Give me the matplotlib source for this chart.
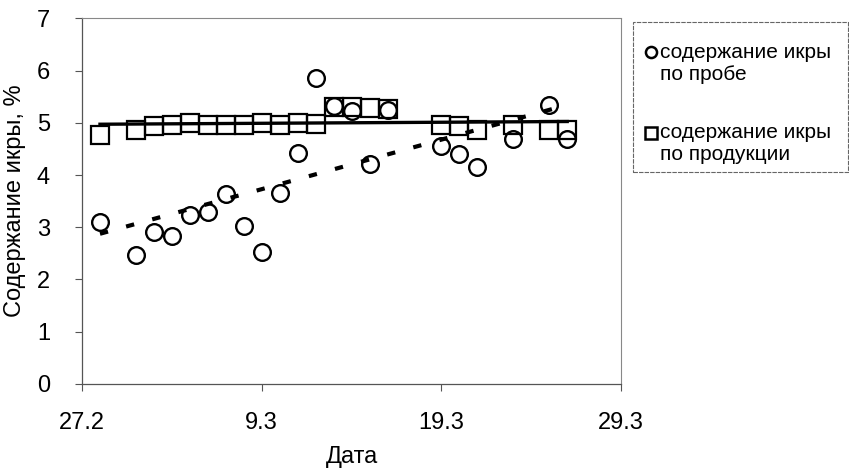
import numpy as np
import matplotlib
matplotlib.use("Agg")
import matplotlib.pyplot as plt
from matplotlib.lines import Line2D
from matplotlib.patches import Rectangle

plt.rcParams['font.family'] = ['Liberation Sans', 'DejaVu Sans']

# дни от 27.2
days = [1, 3, 4, 5, 6, 7, 8, 9, 10, 11, 12, 13, 14, 15, 16, 17, 20, 21, 22, 24, 26, 27]
# содержание икры по пробе, %
probe = [3.10, 2.47, 2.90, 2.84, 3.23, 3.30, 3.63, 3.03, 2.52, 3.65, 4.43, 5.85,
         5.32, 5.23, 4.22, 5.24, 4.55, 4.41, 4.15, 4.68, 5.34, 4.68]
# содержание икры по продукции, %
product = [4.77, 4.86, 4.94, 4.96, 4.99, 4.96, 4.96, 4.96, 4.99, 4.96, 4.99, 4.98,
           5.30, 5.31, 5.28, 5.26, 4.96, 4.94, 4.87, 4.96, 4.86, 4.86]

tick_pos = [0, 10, 20, 30]
tick_labels = ['27.2', '9.3', '19.3', '29.3']

W, H = 849, 474
fig = plt.figure(figsize=(W / 100, H / 100), dpi=100)
ax = fig.add_axes([0.0966, 0.19, 0.635, 0.7714])

x = np.array(days, dtype=float)
# линейные тренды (как в Excel)
k1, b1 = np.polyfit(x, probe, 1)
k2, b2 = np.polyfit(x, product, 1)
xl = np.array([x.min(), x.max()])
ax.plot(xl, k2 * xl + b2, color='black', lw=2.4, zorder=2)
ax.plot(xl, k1 * xl + b1, color='black', lw=3, ls=(0, (2, 4.5)), zorder=2)

ax.plot(days, product, ls='none', marker='s', ms=12.5, mfc='none', mec='black',
        mew=1.6, zorder=3)
ax.plot(days, probe, ls='none', marker='o', ms=12, mfc='none', mec='black',
        mew=1.7, zorder=4)

ax.set_xlim(0, 30)
ax.set_ylim(0, 7)
ax.set_xticks(tick_pos)
ax.set_xticklabels(tick_labels)
ax.set_yticks(range(0, 8))
ax.tick_params(labelsize=17, length=5, width=0.8, color='#555555')
ax.tick_params(axis='y', pad=18)
ax.tick_params(axis='x', pad=15)
for s in ['left', 'bottom']:
    ax.spines[s].set_color('#555555')
    ax.spines[s].set_linewidth(0.9)
for s in ['top', 'right']:
    ax.spines[s].set_color('#888888')
    ax.spines[s].set_linewidth(0.8)
    ax.spines[s].set_linestyle((0, (4, 1)))

ax.set_xlabel('Дата', fontsize=17, labelpad=9)
ax.set_ylabel('Содержание икры, %', fontsize=17, labelpad=8)

# легенда
def fx(px):
    return px / W

def fy(py):
    return 1 - py / H

fig.patches.append(Rectangle((fx(633), fy(172)), fx(848) - fx(633), fy(22) - fy(172),
                             transform=fig.transFigure, fill=False,
                             edgecolor='#666666', lw=0.8, ls=(0, (4, 1))))
fig.add_artist(Line2D([fx(651)], [fy(52)], transform=fig.transFigure, ls='none',
                      marker='o', ms=8, mfc='none', mec='black', mew=1.8))
fig.add_artist(Line2D([fx(651)], [fy(133)], transform=fig.transFigure, ls='none',
                      marker='s', ms=8, mfc='none', mec='black', mew=1.8))
legend_lines = [('содержание икры', 52), ('по пробе', 75),
                ('содержание икры', 133), ('по продукции', 155)]
for txt, py in legend_lines:
    fig.text(fx(660), fy(py), txt, fontsize=15, va='center', ha='left')

fig.savefig('out.png', dpi=100)
